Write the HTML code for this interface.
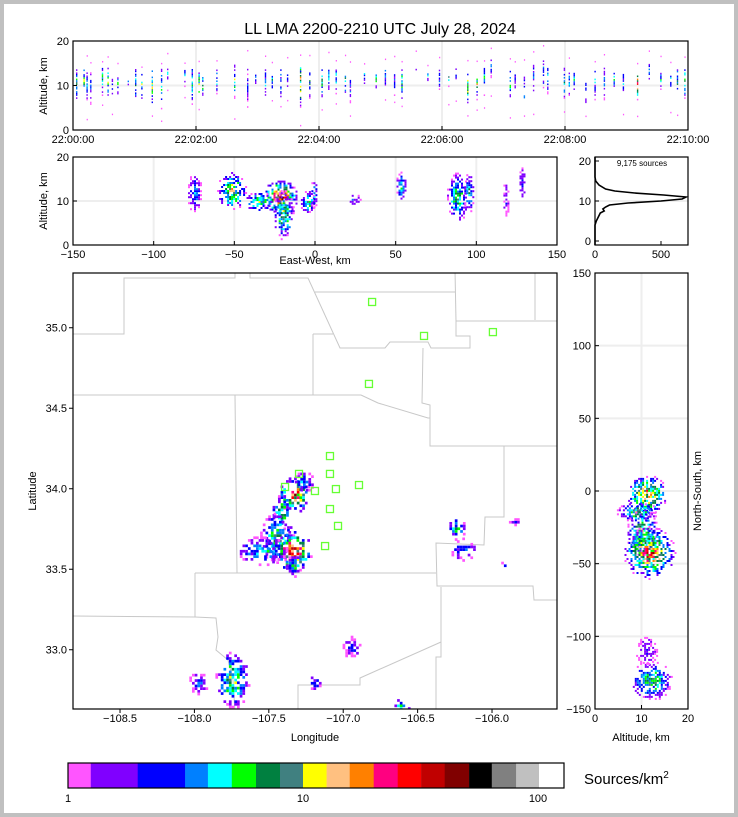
<!DOCTYPE html>
<html><head><meta charset="utf-8"><style>
html,body{margin:0;padding:0;background:#c0c0c0;}
svg{display:block;font-family:"Liberation Sans","DejaVu Sans",sans-serif;}
text{fill:#000;}
</style></head><body>
<svg id="fig" width="738" height="817" viewBox="0 0 738 817" xmlns="http://www.w3.org/2000/svg">
<rect x="0" y="0" width="738" height="817" fill="#c0c0c0"/>
<rect x="4" y="4" width="730" height="809" fill="#fff"/>
<text x="380" y="34" font-size="16" text-anchor="middle">LL LMA 2200-2210 UTC July 28, 2024</text>
<g id="g"></g>
</svg>
<script>
// ---- colormap (colorbar levels) ----
const cbColors=["#ff55ff","#8000ff","#0000ff","#0080ff","#00ffff","#00ff00","#008040","#408080","#ffff00","#ffc080","#ff8000","#ff0080","#ff0000","#c00000","#800000","#000000","#808080","#c0c0c0","#ffffff"];
const cbEdges=[1,1.25,1.98,3.15,3.94,4.98,6.31,7.98,10,12.6,15.8,20,25.3,31.8,40.1,50.9,63.6,80.7,101,128];
// ---- time-height streaks (minutes after 22:00) ----
const flashT=[0.06,0.18,0.23,0.29,0.48,0.57,0.64,0.73,0.90,1.02,1.12,1.29,1.44,1.54,1.82,1.94,2.05,2.11,2.34,2.63,2.84,2.97,3.13,3.24,3.38,3.49,3.70,3.85,4.05,4.16,4.28,4.43,4.51,4.74,4.93,5.08,5.23,5.35,5.58,5.77,5.96,6.11,6.23,6.42,6.57,6.69,6.80,7.11,7.19,7.34,7.49,7.65,7.72,7.99,8.07,8.15,8.34,8.49,8.64,8.80,8.95,9.18,9.37,9.56,9.72,9.83,9.95];
const flashLo=[7,8,7,6,8,7,8,8,9,6,7,5,5,11,10,6,7,7,8,7,5,10,7,9,7,9,5,7,7,9,8,8,6,10,9,10,8,7,12,11,9,10,10,6,7,8,12,7,9,5,8,9,8,7,8,9,5,7,7,9,7,7,11,9,8,7,7];
const flashHi=[14,14,13,13,14,14,12,12,12,14,13,14,14,14,14,14,13,13,14,15,14,13,14,13,14,13,15,14,14,14,14,13,13,14,13,14,13,14,14,13,14,13,14,13,13,14,16,14,13,12,15,16,14,14,13,13,12,14,14,13,14,13,15,13,14,14,14];
const flashPk=[6,7,4,3,5,6,4,5,3,5,6,7,5,4,3,6,8,5,4,6,2,3,4,5,4,3,10,5,6,4,5,6,3,4,5,4,3,6,2,3,3,5,2,9,7,5,3,5,3,4,3,3,4,5,5,4,3,4,3,4,3,11,3,4,4,5,6];
// ---- east-west vs altitude clusters ----
const ewX=[-52,-75,-22,-20,-35,-5,-1,24,53,88,95,118,128];
const ewZ=[12.5,12,11,7,10,10,12,10.5,13.5,11,12,11,14];
const ewSx=[4,2,5,3,4,2,1,2,1.5,3,1.5,1,1];
const ewSz=[2,2,1.8,2.5,1,1.2,1.5,0.6,1.5,2.5,2,2,2];
const ewPk=[9,4,15,8,8,7,5,3,5,7,6,2,2];
// ---- plan-view clusters (lon, lat) ----
const mapLon=[-107.33,-107.42,-107.45,-107.35,-107.33,-107.55,-106.25,-106.2,-105.85,-105.92,-107.75,-107.98,-107.2,-106.95,-106.62,-107.27];
const mapLat=[33.97,33.86,33.70,33.62,33.53,33.62,33.76,33.63,33.80,33.53,32.82,32.80,32.80,33.02,32.66,34.05];
const mapSLon=[0.05,0.03,0.05,0.06,0.03,0.08,0.03,0.04,0.02,0.01,0.05,0.03,0.02,0.03,0.03,0.03];
const mapSLat=[0.05,0.05,0.07,0.06,0.03,0.04,0.03,0.03,0.01,0.02,0.08,0.03,0.02,0.03,0.02,0.03];
const mapPk=[13,8,7,15,6,5,6,4,2,2,8,3,4,2,5,4];
// ---- histogram of sources by altitude ----
const histAlt=[-1,4,5,6,7,7.5,8,8.5,9,9.5,10,10.5,11,11.5,12,12.5,13,14,15,16,21];
const histCnt=[0,0,10,25,40,70,60,80,110,250,500,660,690,520,300,150,80,30,5,0,0];
// ---- altitude vs north-south clusters ----
const nsAlt=[11,9,10,11.5,12,11];
const nsY=[-2,-14,-28,-42,-130,-110];
const nsSa=[2,2,1.5,2.5,2,1];
const nsSy=[6,3,7,8,6,5];
const nsPk=[12,8,9,13,7,2];
// ---- LMA stations ----
const stLon=[-106.806,-106.457,-105.994,-106.827,-107.089,-107.297,-107.089,-107.391,-107.190,-107.049,-106.894,-107.089,-107.035,-107.122];
const stLat=[35.16,34.949,34.973,34.651,34.203,34.092,34.092,34.011,33.986,33.998,34.023,33.874,33.769,33.644];
// ---- tick labels ----
const timeTicks=["22:00:00","22:02:00","22:04:00","22:06:00","22:08:00","22:10:00"];
const lonTicks=[-108.5,-108.0,-107.5,-107.0,-106.5,-106.0];
const latTicks=[33.0,33.5,34.0,34.5,35.0];
const ewTicks=[-150,-100,-50,0,50,100,150];
const nsTicks=[-150,-100,-50,0,50,100,150];

const NS="http://www.w3.org/2000/svg";
const G=document.getElementById('g');
function mk(tag,attrs,parent){const e=document.createElementNS(NS,tag);for(const k in attrs)e.setAttribute(k,attrs[k]);(parent||G).appendChild(e);return e;}
function txt(x,y,s,size,anchor,parent){const t=mk('text',{x:x,y:y,'font-size':size,'text-anchor':anchor||'middle'},parent);t.textContent=s;return t;}
function hash(i,j,k){let h=(i*73856093)^(j*19349663)^(k*83492791);h=(h^(h>>>13))*1274126177;h=h^(h>>>16);return ((h>>>0)%1000)/1000;}
function lvl(p){return cbColors[Math.max(0,Math.min(cbColors.length-1,Math.round(p)))];}

const tX=m=>73+m*61.5, tY=z=>130-z*4.45;
const eX=x=>73+(x+150)*484/300, eY=z=>245-z*4.4;
const hX=c=>595+c*66/500, hY=z=>241-z*4;
const mX=l=>73+(l+108.816)*148.8, mY=l=>273+(35.34-l)*161;
const nX=a=>595+a*93/20, nY=y=>273+(150-y)*436/300;

function cluster(group,cx,cy,rx,ry,pk,cs,seed){
  rx*=1.4;ry*=1.4;
  const nx=Math.ceil(rx*1.6/cs)+1, ny=Math.ceil(ry*1.6/cs)+1;
  for(let i=-nx;i<=nx;i++)for(let j=-ny;j<=ny;j++){
    const dx=i*cs/(rx*1.6), dy=j*cs/(ry*1.6), d=Math.sqrt(dx*dx+dy*dy);
    if(d>1)continue;
    const h=hash(i+seed*31,j,seed);
    if(h>0.9-0.65*d)continue;
    const L=pk*(1-d)*(0.45+0.8*hash(j,i,seed+7));
    const r=mk('rect',{x:(cx+i*cs).toFixed(1),y:(cy+j*cs).toFixed(1),width:cs,height:cs,fill:lvl(L)},group);
    
    
  }
}

// ===== Panel 1: time-height =====
const p1=mk('g',{});
for(let k=1;k<5;k++)mk('line',{x1:tX(2*k),x2:tX(2*k),y1:41,y2:130,stroke:'#eee','stroke-width':2},p1);
mk('line',{x1:73,x2:688,y1:tY(10),y2:tY(10),stroke:'#eee','stroke-width':2},p1);
const streaks=mk('g',{},p1);
flashT.forEach((t,k)=>{
  const x=tX(t);
  for(let z=flashLo[k];z<=flashHi[k];z+=0.35){
    const mid=(flashLo[k]+flashHi[k])/2+0.5, half=(flashHi[k]-flashLo[k])/2+0.5;
    const d=Math.abs(z-mid)/half;
    const h=hash(k,Math.round(z*10),3);
    if(h>0.75-0.45*d)continue;
    const r=mk('rect',{x:(x-0.7).toFixed(1),y:tY(z).toFixed(1),width:1.4,height:1.6,fill:lvl(flashPk[k]*(1-d)*(0.4+hash(Math.round(z*10),k,5)))},streaks);
    
  }
  const zo=[flashLo[k]-1.5-3*hash(k,1,9),flashHi[k]+1+3*hash(k,2,9)];
  zo.forEach(z=>{if(z>0&&z<20&&hash(k,Math.round(z),4)<0.6){const r=mk('rect',{x:x-0.5,y:tY(z),width:1.2,height:1.5,fill:cbColors[0]},streaks);}});
});
mk('rect',{x:73,y:41,width:615,height:89,fill:'none',stroke:'#000','stroke-width':1.2},p1);
[0,10,20].forEach(v=>{mk('line',{x1:73,x2:77,y1:tY(v),y2:tY(v),stroke:'#000'},p1);txt(69,tY(v)+4,v,11,'end',p1);});
timeTicks.forEach((s,k)=>{mk('line',{x1:tX(2*k),x2:tX(2*k),y1:126,y2:130,stroke:'#000'},p1);txt(tX(2*k),143,s,11,'middle',p1);});
const yl1=txt(47,86,'Altitude, km',11,'middle',p1);yl1.setAttribute('transform','rotate(-90 47 86)');

// ===== Panel 2: east-west vs altitude =====
const p2=mk('g',{});
ewTicks.slice(1,-1).forEach(v=>mk('line',{x1:eX(v),x2:eX(v),y1:157,y2:245,stroke:'#eee','stroke-width':2},p2));
mk('line',{x1:73,x2:557,y1:eY(10),y2:eY(10),stroke:'#eee','stroke-width':2},p2);
const ewg=mk('g',{},p2);
ewX.forEach((x,k)=>cluster(ewg,eX(x),eY(ewZ[k]),ewSx[k]*1.613,ewSz[k]*4.4,ewPk[k],2,k+20));
mk('rect',{x:73,y:157,width:484,height:88,fill:'none',stroke:'#000','stroke-width':1.2},p2);
[0,10,20].forEach(v=>{mk('line',{x1:73,x2:77,y1:eY(v),y2:eY(v),stroke:'#000'},p2);txt(69,eY(v)+4,v,11,'end',p2);});
ewTicks.forEach(v=>{mk('line',{x1:eX(v),x2:eX(v),y1:241,y2:245,stroke:'#000'},p2);txt(eX(v),258,v<0?'\u2212'+(-v):v,11,'middle',p2);});
const xl2=txt(315,264,'East-West, km',11,'middle',p2);
const yl2=txt(47,201,'Altitude, km',11,'middle',p2);yl2.setAttribute('transform','rotate(-90 47 201)');

// ===== Histogram =====
const p3=mk('g',{});
mk('line',{x1:595,x2:688,y1:hY(10),y2:hY(10),stroke:'#eee','stroke-width':2},p3);
const hl=mk('polyline',{points:histAlt.map((a,k)=>hX(histCnt[k]).toFixed(1)+','+hY(a).toFixed(1)).join(' '),fill:'none',stroke:'#000','stroke-width':1.6},p3);

mk('rect',{x:595,y:157,width:93,height:88,fill:'none',stroke:'#000','stroke-width':1.2},p3);
[0,10,20].forEach(v=>{mk('line',{x1:595,x2:599,y1:hY(v),y2:hY(v),stroke:'#000'},p3);txt(591,hY(v)+4,v,11,'end',p3);});
[0,500].forEach(v=>{mk('line',{x1:hX(v),x2:hX(v),y1:241,y2:245,stroke:'#000'},p3);txt(hX(v),258,v,11,'middle',p3);});
const sc=txt(642,166,'9,175 sources',8,'middle',p3);

// ===== Map =====
const p4=mk('g',{});
mk('clipPath',{id:'mc'},p4);mk('rect',{x:73,y:273,width:484,height:436},document.getElementById('mc'));
const counties=mk('g',{'clip-path':'url(#mc)',fill:'none',stroke:'#c8c8c8','stroke-width':1},p4);

["73,334 124,334 124,278 235,278 235,270","250,270 250,278 308,278 340,348 385,348 390,342 428,342 431,348 470,348 470,336 456,336 456,321 560,321",
"315,292 455,292","455,270 456,321","535,270 535,320","73,395 361,395 378,403 428,418 430,418","313,334 313,395","313,334 333,334",
"423,348 422,403 430,405 430,446 560,446","235,395 237,573","504,446 504,517 485,517 484,545 436,543 437,586 533,586 534,600 560,600",
"195,573 436,573","195,573 195,617 73,616","195,617 216,618 218,637 216,650 228,660 233,680 235,712",
"441,587 441,642 360,678 360,685 298,685 298,712","441,642 441,657 436,657 436,712"].forEach(p=>mk('polyline',{points:p},counties));
const mg=mk('g',{'clip-path':'url(#mc)'},p4);
mapLon.forEach((l,k)=>cluster(mg,mX(l),mY(mapLat[k]),mapSLon[k]*148.8,mapSLat[k]*161,mapPk[k],2.7,k+50));
const stg=mk('g',{},p4);
stLon.forEach((l,k)=>{const r=mk('rect',{x:mX(l)-3.5,y:mY(stLat[k])-3.5,width:7,height:7,fill:'none',stroke:'#66ff33','stroke-width':1.3},stg);});
mk('rect',{x:73,y:273,width:484,height:436,fill:'none',stroke:'#000','stroke-width':1.2},p4);
lonTicks.forEach(v=>{mk('line',{x1:mX(v),x2:mX(v),y1:709,y2:713,stroke:'#000'},p4);txt(mX(v),722,'\u2212'+(-v).toFixed(1),11,'middle',p4);});
latTicks.forEach(v=>{mk('line',{x1:69,x2:73,y1:mY(v),y2:mY(v),stroke:'#000'},p4);txt(67,mY(v)+4,v.toFixed(1),11,'end',p4);});
const lx=txt(315,741,'Longitude',11,'middle',p4);
const ly=txt(36,491,'Latitude',11,'middle',p4);ly.setAttribute('transform','rotate(-90 36 491)');

// ===== NS panel =====
const p5=mk('g',{});
mk('line',{x1:nX(10),x2:nX(10),y1:273,y2:709,stroke:'#eee','stroke-width':2},p5);
nsTicks.slice(1,-1).forEach(v=>mk('line',{x1:595,x2:688,y1:nY(v),y2:nY(v),stroke:'#eee','stroke-width':2},p5));
const ng=mk('g',{},p5);
nsAlt.forEach((a,k)=>cluster(ng,nX(a),nY(nsY[k]),nsSa[k]*4.65,nsSy[k]*1.453,nsPk[k],2,k+80));
mk('rect',{x:595,y:273,width:93,height:436,fill:'none',stroke:'#000','stroke-width':1.2},p5);
nsTicks.forEach(v=>{mk('line',{x1:595,x2:599,y1:nY(v),y2:nY(v),stroke:'#000'},p5);txt(591,nY(v)+4,v<0?'\u2212'+(-v):v,11,'end',p5);});
[0,10,20].forEach(v=>{mk('line',{x1:nX(v),x2:nX(v),y1:705,y2:709,stroke:'#000'},p5);txt(nX(v),722,v,11,'middle',p5);});
const nx1=txt(641,741,'Altitude, km',11,'middle',p5);
const ny1=txt(701,491,'North-South, km',11,'middle',p5);ny1.setAttribute('transform','rotate(-90 701 491)');

// ===== Colorbar =====
const p6=mk('g',{});
const cX=v=>68+Math.log10(v)*235;
cbColors.forEach((c,k)=>{const r=mk('rect',{x:cX(cbEdges[k]).toFixed(1),y:763,width:(cX(cbEdges[k+1])-cX(cbEdges[k])+0.3).toFixed(1),height:25,fill:c},p6);});
mk('rect',{x:68,y:763,width:496,height:25,fill:'none',stroke:'#000','stroke-width':1.2},p6);
[1,10,100].forEach(v=>txt(cX(v),802,v,11,'middle',p6));
const cl=mk('text',{x:584,y:784,'font-size':15},p6);cl.innerHTML='Sources/km<tspan font-size="10" dy="-6">2</tspan>';

</script>
</body></html>
